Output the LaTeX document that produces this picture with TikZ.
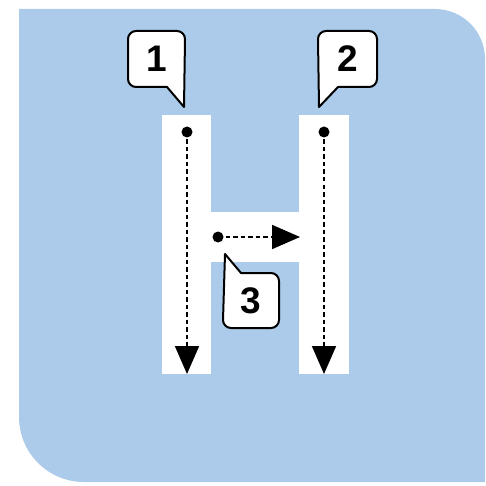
\documentclass[tikz,border=0pt]{standalone}
\usepackage{fontspec}
\setmainfont{Liberation Sans}
\usetikzlibrary{arrows.meta}
\definecolor{bgblue}{HTML}{ACCBEA}
\tikzset{
  dotnode/.style={circle,fill=black,inner sep=0pt,minimum size=11pt},
  strokearrow/.style={dash pattern=on 4.5pt off 3pt,line width=1.8pt,-{Triangle[length=28pt,width=24pt]}},
  bubble/.style={fill=white,draw=black,line width=2pt,line join=round},
  numtext/.style={font=\bfseries\fontsize{37}{37}\selectfont,inner sep=0pt}
}
\begin{document}
\begin{tikzpicture}[x=1pt,y=-1pt]
\useasboundingbox (0,0) rectangle (485,486);
% background
\fill[bgblue] (19,9) -- (435,9) arc[start angle=-90,end angle=0,radius=50] -- (485,482) -- (84,482) arc[start angle=90,end angle=180,radius=65] -- cycle;
% H letter
\fill[white] (162,115) rectangle (211,374);
\fill[white] (299,115) rectangle (349,374);
\fill[white] (210,212) rectangle (300,262);
% dots and strokes
\node[dotnode] (d1) at (187,132) {};
\node[dotnode] (d2) at (324,132) {};
\node[dotnode] (d3) at (218,237) {};
\coordinate (e1) at (187,374);
\coordinate (e2) at (324,374);
\coordinate (e3) at (300,237);
\draw[strokearrow] (d1.center) -- (e1);
\draw[strokearrow] (d2.center) -- (e2);
\draw[strokearrow] (d3.center) -- (e3);
% callouts
\draw[bubble] (167,87) -- (136,87) arc[start angle=90,end angle=180,radius=8] -- (128,39) arc[start angle=180,end angle=270,radius=8] -- (177,31) arc[start angle=270,end angle=360,radius=8] -- (184,107) -- cycle;
\draw[bubble] (338,87) -- (369,87) arc[start angle=90,end angle=0,radius=8] -- (377,39) arc[start angle=0,end angle=-90,radius=8] -- (326,31) arc[start angle=270,end angle=180,radius=8] -- (319,107) -- cycle;
\draw[bubble] (241,273) -- (271,273) arc[start angle=-90,end angle=0,radius=8] -- (279,320) arc[start angle=0,end angle=90,radius=8] -- (231,328) arc[start angle=90,end angle=180,radius=8] -- (225,254) -- cycle;
\node[numtext] (n1) at (157,59) {1};
\node[numtext] (n2) at (348,59) {2};
\node[numtext] (n3) at (251,301) {3};
\end{tikzpicture}
\end{document}
